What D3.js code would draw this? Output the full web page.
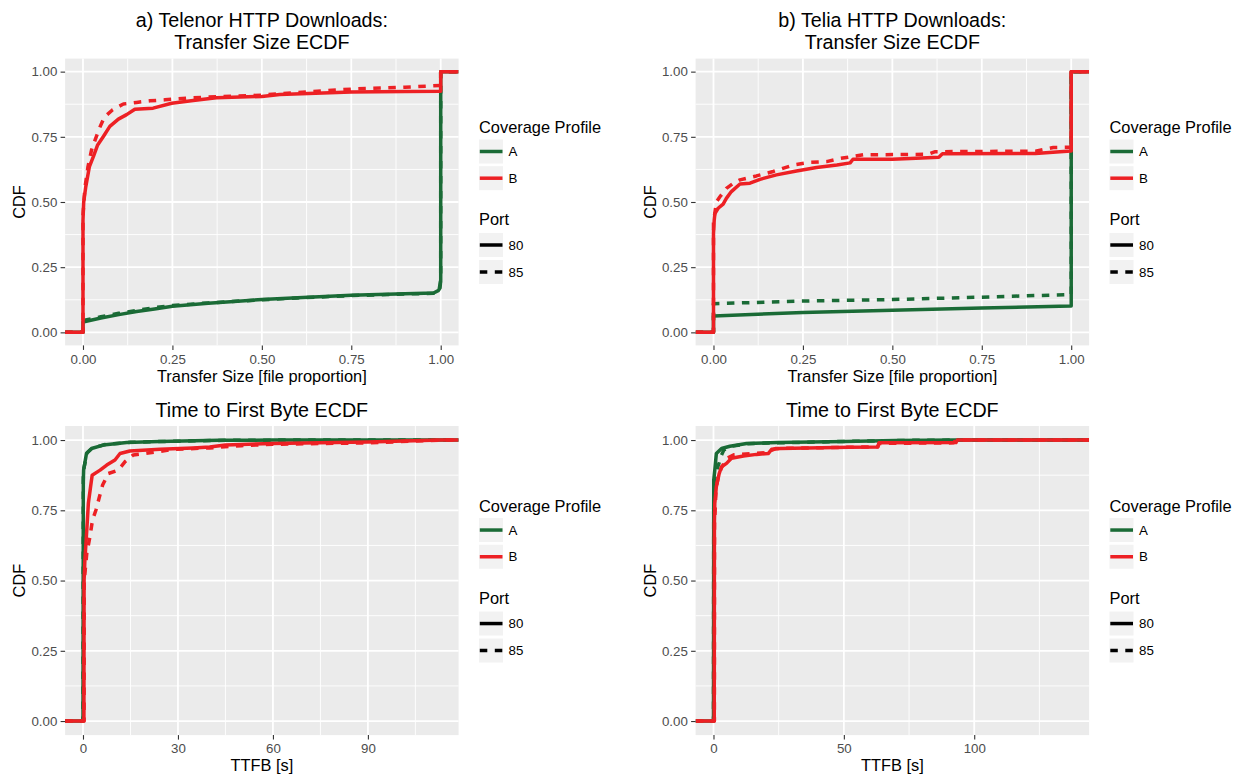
<!DOCTYPE html>
<html>
<head>
<meta charset="utf-8">
<script src="https://cdn.jsdelivr.net/npm/d3@7"></script>
<style>
  html, body { margin: 0; padding: 0; background: #ffffff; }
  svg { display: block; font-family: "Liberation Sans", Arial, Helvetica, sans-serif; }
</style>
</head>
<body>
<svg id="chart" width="1241" height="776"></svg>
<script>
// ---------------- DATA ----------------
const profiles = ["A", "B"];            // Coverage Profile
const ports = ["80", "85"];             // Port
const profileColors = ["#1A6B36", "#ED2024"];

const cdfTicks = [0, 0.25, 0.5, 0.75, 1];
const sizeTicks = [0, 0.25, 0.5, 0.75, 1];
const telenorTtfbTicks = [0, 30, 60, 90];
const teliaTtfbTicks = [0, 50, 100];

// a) Telenor transfer size ECDF  [file proportion, CDF]
const telenorSizeA80 = [[0,0],[0,0.04],[0.05,0.055],[0.1,0.068],[0.15,0.08],[0.2,0.09],[0.25,0.1],[0.35,0.112],[0.5,0.126],[0.6,0.133],[0.75,0.142],[0.9,0.148],[0.98,0.151],[0.993,0.16],[0.998,0.17],[1,0.2],[1,1]];
const telenorSizeA85 = [[0,0],[0,0.045],[0.05,0.06],[0.1,0.073],[0.15,0.084],[0.2,0.095],[0.25,0.103],[0.35,0.113],[0.5,0.125],[0.6,0.132],[0.75,0.141],[0.9,0.147],[0.98,0.15],[0.995,0.16],[1,0.2],[1,1]];
const telenorSizeB80 = [[0,0],[0,0.43],[0.002,0.5],[0.008,0.56],[0.018,0.636],[0.029,0.674],[0.041,0.719],[0.057,0.751],[0.075,0.79],[0.099,0.818],[0.122,0.835],[0.145,0.856],[0.196,0.86],[0.248,0.879],[0.308,0.889],[0.373,0.9],[0.5,0.905],[0.55,0.912],[0.75,0.922],[0.9,0.924],[0.998,0.925],[1,0.925],[1,1]];
const telenorSizeB85 = [[0,0],[0,0.45],[0.005,0.55],[0.014,0.636],[0.024,0.7],[0.034,0.738],[0.046,0.783],[0.06,0.826],[0.083,0.854],[0.113,0.876],[0.15,0.882],[0.187,0.888],[0.229,0.892],[0.307,0.9],[0.5,0.91],[0.6,0.92],[0.75,0.933],[0.9,0.94],[0.998,0.947],[1,0.947],[1,1]];

// b) Telia transfer size ECDF
const teliaSizeA80 = [[0,0],[0,0.063],[0.25,0.076],[0.5,0.085],[0.75,0.093],[0.998,0.101],[1,0.101],[1,1]];
const teliaSizeA85 = [[0,0],[0,0.11],[0.25,0.12],[0.5,0.126],[0.75,0.135],[0.998,0.145],[1,0.145],[1,1]];
const teliaSizeB80 = [[0,0],[0,0.38],[0.002,0.43],[0.004,0.456],[0.013,0.476],[0.027,0.492],[0.036,0.514],[0.05,0.54],[0.074,0.569],[0.102,0.572],[0.13,0.587],[0.176,0.604],[0.232,0.619],[0.288,0.632],[0.345,0.642],[0.382,0.65],[0.39,0.664],[0.5,0.664],[0.55,0.667],[0.63,0.672],[0.64,0.685],[0.9,0.686],[0.998,0.696],[1,0.696],[1,1]];
const teliaSizeB85 = [[0,0],[0,0.42],[0.008,0.5],[0.018,0.52],[0.036,0.552],[0.055,0.571],[0.074,0.585],[0.12,0.6],[0.167,0.617],[0.223,0.642],[0.27,0.652],[0.316,0.655],[0.354,0.667],[0.419,0.681],[0.6,0.683],[0.62,0.693],[0.9,0.695],[0.95,0.709],[0.998,0.71],[1,0.71],[1,1]];

// Telenor time to first byte ECDF  [s, CDF]
const telenorTtfbA80 = [[0,0],[0.1,0.85],[0.2,0.893],[1.1,0.952],[2.7,0.97],[6.4,0.982],[13.8,0.991],[24,0.995],[43,0.999],[60,1]];
const telenorTtfbA85 = [[0,0],[0.1,0.87],[0.3,0.9],[1.3,0.955],[3,0.972],[7,0.984],[15,0.992],[25,0.995],[45,0.999],[65,1]];
const telenorTtfbB80 = [[0,0],[0.3,0],[0.35,0.5],[0.6,0.573],[1.2,0.68],[1.7,0.775],[2.4,0.834],[2.9,0.875],[5.4,0.893],[7.5,0.911],[10.1,0.929],[11.7,0.952],[14.8,0.961],[24.3,0.967],[34.8,0.972],[40,0.975],[45,0.982],[60,0.988],[90,0.993],[113,1]];
const telenorTtfbB85 = [[0,0],[0.35,0],[0.4,0.5],[1.2,0.597],[2.2,0.656],[3,0.715],[4.1,0.751],[5.2,0.798],[6.2,0.84],[8,0.881],[11.1,0.893],[13.3,0.923],[15.9,0.947],[23.3,0.958],[28.4,0.967],[40,0.972],[50,0.98],[60,0.985],[90,0.99],[113,1]];

// Telia time to first byte ECDF
const teliaTtfbA80 = [[0,0],[0.1,0.858],[0.5,0.893],[1.1,0.952],[3.1,0.97],[6.3,0.978],[12.7,0.988],[24.7,0.991],[50,0.995],[70,0.998],[93,1]];
const teliaTtfbA85 = [[0,0],[0.1,0.84],[0.8,0.88],[2.2,0.92],[3,0.945],[4,0.965],[7,0.978],[13,0.987],[25,0.99],[50,0.995],[75,0.999],[93,1]];
const teliaTtfbB80 = [[0,0],[0.3,0],[0.35,0.705],[0.5,0.775],[1.1,0.834],[2.2,0.881],[3.1,0.905],[5,0.917],[6.9,0.935],[11.5,0.943],[16.5,0.949],[21,0.952],[22.3,0.967],[25.5,0.97],[52,0.974],[63,0.975],[63.5,0.99],[93,0.991],[93.5,1],[137.2,1]];
const teliaTtfbB85 = [[0,0],[0.35,0],[0.4,0.7],[1,0.83],[2,0.875],[3,0.9],[5,0.935],[8,0.948],[20,0.955],[24,0.97],[50,0.974],[63,0.976],[63.5,0.988],[92,0.99],[93,1],[137.2,1]];

// ---------------- LAYOUT ----------------
const panels = [
  { left: 65.1,  top: 58.6, w: 393.5, h: 286.8, title: ["a) Telenor HTTP Downloads:", "Transfer Size ECDF"],
    xLabel: "Transfer Size [file proportion]", xTicks: sizeTicks, fmt: d3.format(".2f"),
    series: [telenorSizeA80, telenorSizeA85, telenorSizeB80, telenorSizeB85] },
  { left: 695.6, top: 58.6, w: 393.5, h: 286.8, title: ["b) Telia HTTP Downloads:", "Transfer Size ECDF"],
    xLabel: "Transfer Size [file proportion]", xTicks: sizeTicks, fmt: d3.format(".2f"),
    series: [teliaSizeA80, teliaSizeA85, teliaSizeB80, teliaSizeB85] },
  { left: 65.1,  top: 426.0, w: 393.5, h: 309.1, title: ["Time to First Byte ECDF"],
    xLabel: "TTFB [s]", xTicks: telenorTtfbTicks, fmt: d3.format("d"),
    series: [telenorTtfbA80, telenorTtfbA85, telenorTtfbB80, telenorTtfbB85] },
  { left: 695.6, top: 426.0, w: 393.5, h: 309.1, title: ["Time to First Byte ECDF"],
    xLabel: "TTFB [s]", xTicks: teliaTtfbTicks, fmt: d3.format("d"),
    series: [teliaTtfbA80, teliaTtfbA85, teliaTtfbB80, teliaTtfbB85] }
];

const svg = d3.select("#chart");
const defs = svg.append("defs");
const LW = 3.5;
const DASH = "7.5,7.5";

function expand(ext) {
  const d = (ext[1] - ext[0]) * 0.05;
  return [ext[0] - d, ext[1] + d];
}
function midpoints(ticks, domain) {
  const step = ticks[1] - ticks[0];
  const out = [];
  for (let v = ticks[0] - step / 2; v <= domain[1]; v += step) {
    if (v >= domain[0]) out.push(v);
  }
  return out;
}

panels.forEach((p, i) => {
  const allPts = p.series.flat();
  const xDom = expand(d3.extent(allPts, d => d[0]));
  const yDom = expand([0, 1]);
  const x = d3.scaleLinear().domain(xDom).range([0, p.w]);
  const y = d3.scaleLinear().domain(yDom).range([p.h, 0]);

  const g = svg.append("g").attr("transform", `translate(${p.left},${p.top})`);

  // background
  g.append("rect").attr("width", p.w).attr("height", p.h).attr("fill", "#EBEBEB");

  // minor grid
  const xMinor = midpoints(p.xTicks, xDom);
  const yMinor = midpoints(cdfTicks, yDom);
  g.selectAll(".xminor").data(xMinor).enter().append("line")
    .attr("x1", d => x(d)).attr("x2", d => x(d)).attr("y1", 0).attr("y2", p.h)
    .attr("stroke", "#fff").attr("stroke-width", 0.9);
  g.selectAll(".yminor").data(yMinor).enter().append("line")
    .attr("y1", d => y(d)).attr("y2", d => y(d)).attr("x1", 0).attr("x2", p.w)
    .attr("stroke", "#fff").attr("stroke-width", 0.9);
  // major grid
  g.selectAll(".xmajor").data(p.xTicks).enter().append("line")
    .attr("x1", d => x(d)).attr("x2", d => x(d)).attr("y1", 0).attr("y2", p.h)
    .attr("stroke", "#fff").attr("stroke-width", 1.8);
  g.selectAll(".ymajor").data(cdfTicks).enter().append("line")
    .attr("y1", d => y(d)).attr("y2", d => y(d)).attr("x1", 0).attr("x2", p.w)
    .attr("stroke", "#fff").attr("stroke-width", 1.8);

  // clip
  defs.append("clipPath").attr("id", "clip" + i)
    .append("rect").attr("width", p.w).attr("height", p.h);

  const line = d3.line().x(d => x(d[0])).y(d => y(d[1])).curve(d3.curveLinear);
  const lines = g.append("g").attr("clip-path", `url(#clip${i})`);
  p.series.forEach((s, k) => {
    const prof = Math.floor(k / 2), port = k % 2;
    const pts = [[xDom[0], 0]].concat(s, [[xDom[1], 1]]);
    lines.append("path").datum(pts)
      .attr("d", line)
      .attr("fill", "none")
      .attr("stroke", profileColors[prof])
      .attr("stroke-width", LW)
      .attr("stroke-linejoin", "round")
      .attr("stroke-linecap", "butt")
      .attr("stroke-dasharray", port === 1 ? DASH : null);
  });

  // axes
  const yAxis = g.append("g").call(d3.axisLeft(y).tickValues(cdfTicks).tickFormat(d3.format(".2f")).tickSize(4.5).tickPadding(3.3));
  const xAxis = g.append("g").attr("transform", `translate(0,${p.h})`)
    .call(d3.axisBottom(x).tickValues(p.xTicks).tickFormat(p.fmt).tickSize(4.5).tickPadding(4.2));
  [yAxis, xAxis].forEach(ax => {
    ax.select(".domain").remove();
    ax.selectAll(".tick line").attr("stroke", "#333333").attr("stroke-width", 1.1);
    ax.selectAll(".tick text").attr("fill", "#4D4D4D").style("font-size", "13.3px")
      .style("font-family", '"Liberation Sans", Arial, Helvetica, sans-serif');
  });

  // axis titles
  g.append("text").attr("x", p.w / 2).attr("y", p.h + 36.2).attr("text-anchor", "middle")
    .style("font-size", "16.4px").attr("fill", "#000").text(p.xLabel);
  g.append("text").attr("transform", `translate(-40.1,${p.h / 2}) rotate(-90)`).attr("text-anchor", "middle")
    .style("font-size", "16.4px").attr("fill", "#000").text("CDF");

  // title
  const nT = p.title.length;
  p.title.forEach((t, j) => {
    g.append("text").attr("x", p.w / 2).attr("y", -9.5 - (nT - 1 - j) * 21.7)
      .attr("text-anchor", "middle").style("font-size", "19.7px").attr("fill", "#000").text(t);
  });

  // legend
  const lx = p.w + 20.4;
  const yc = p.h / 2;
  const lg = g.append("g").attr("transform", `translate(${lx},${yc})`);
  lg.append("text").attr("x", 0).attr("y", -69).style("font-size", "16.4px").attr("fill", "#000").text("Coverage Profile");
  const profKeys = [-50.5, -23.8];
  profiles.forEach((lab, k) => {
    const cy = profKeys[k];
    lg.append("rect").attr("x", 0).attr("y", cy - 12).attr("width", 24).attr("height", 24).attr("fill", "#F2F2F2");
    lg.append("line").attr("x1", 0.8).attr("x2", 23.5).attr("y1", cy).attr("y2", cy)
      .attr("stroke", profileColors[k]).attr("stroke-width", LW);
    lg.append("text").attr("x", 29.5).attr("y", cy).attr("dy", "0.35em").style("font-size", "13.3px").attr("fill", "#000").text(lab);
  });
  lg.append("text").attr("x", 0).attr("y", 23).style("font-size", "16.4px").attr("fill", "#000").text("Port");
  const portKeys = [43, 70];
  ports.forEach((lab, k) => {
    const cy = portKeys[k];
    lg.append("rect").attr("x", 0).attr("y", cy - 12).attr("width", 24).attr("height", 24).attr("fill", "#F2F2F2");
    lg.append("line").attr("x1", 0.8).attr("x2", 23.5).attr("y1", cy).attr("y2", cy)
      .attr("stroke", "#000").attr("stroke-width", LW)
      .attr("stroke-dasharray", k === 1 ? DASH : null);
    lg.append("text").attr("x", 29.5).attr("y", cy).attr("dy", "0.35em").style("font-size", "13.3px").attr("fill", "#000").text(lab);
  });
});
</script>
</body>
</html>
